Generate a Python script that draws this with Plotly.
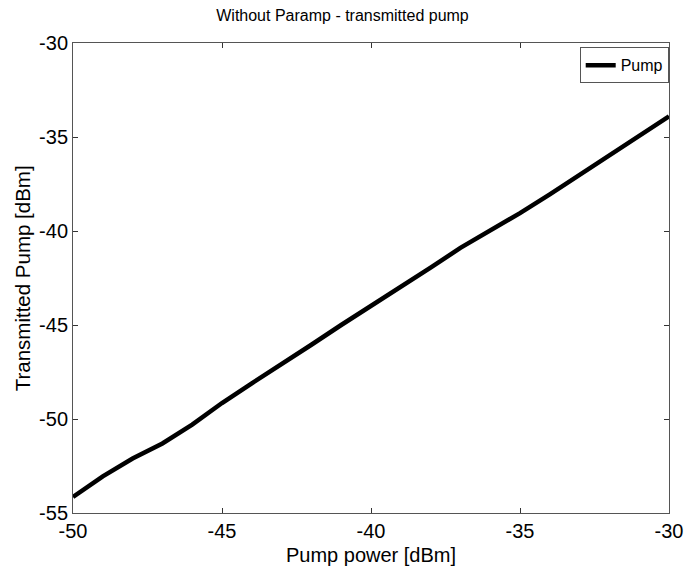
import plotly.graph_objects as go

# Pump input power sweep and measured transmitted pump power
pump_power_dbm = [-50, -49, -48, -47, -46, -45, -44, -43, -42, -41, -40,
                  -39, -38, -37, -36, -35, -34, -33, -32, -31, -30]
transmitted_dbm = [-54.15, -53.05, -52.1, -51.3, -50.3, -49.15, -48.1, -47.1,
                   -46.05, -45.0, -44.0, -43.0, -41.95, -40.9, -40.0, -39.05,
                   -38.05, -37.0, -35.95, -34.9, -33.9]

x_ticks = [-50, -45, -40, -35, -30]
y_ticks = [-55, -50, -45, -40, -35, -30]

FONT = "Liberation Sans, Arial, Helvetica, sans-serif"

fig = go.Figure()
fig.add_trace(go.Scatter(
    x=pump_power_dbm, y=transmitted_dbm, mode="lines", name="Pump",
    line=dict(color="black", width=4.5),
))

axis_common = dict(
    showgrid=False, zeroline=False, showline=True, linecolor="#555555",
    linewidth=1, mirror="ticks", ticks="inside", ticklen=5,
    tickcolor="#333333", automargin=False,
    tickfont=dict(family=FONT, size=20, color="black"),
)

fig.update_layout(
    width=685, height=566,
    margin=dict(l=73, r=16, t=43, b=53),
    paper_bgcolor="white", plot_bgcolor="white",
    title=dict(text="Without Paramp - transmitted pump", x=0.5, xanchor="center",
               y=0.973, yanchor="middle",
               font=dict(family=FONT, size=16, color="black")),
    xaxis=dict(range=[-50, -30], tickvals=x_ticks,
               ticktext=[str(v) for v in x_ticks],
               title=dict(text="Pump power [dBm]",
                          font=dict(family=FONT, size=20, color="black")),
               **axis_common),
    yaxis=dict(range=[-55, -30], tickvals=y_ticks,
               ticktext=[str(v) for v in y_ticks], **axis_common),
    legend=dict(x=0.9995, y=0.991, xanchor="right", yanchor="top",
                bordercolor="#555555", borderwidth=1, bgcolor="white",
                font=dict(family=FONT, size=16, color="black"),
                itemwidth=30, tracegroupgap=0),
    showlegend=True,
)

# Vertical y-axis title placed beside the tick labels
fig.add_annotation(
    text="Transmitted Pump [dBm]", textangle=-90, showarrow=False,
    xref="paper", yref="paper", x=-0.085, y=0.5,
    xanchor="center", yanchor="middle",
    font=dict(family=FONT, size=20.5, color="black"),
)

fig.write_html("out.html")
